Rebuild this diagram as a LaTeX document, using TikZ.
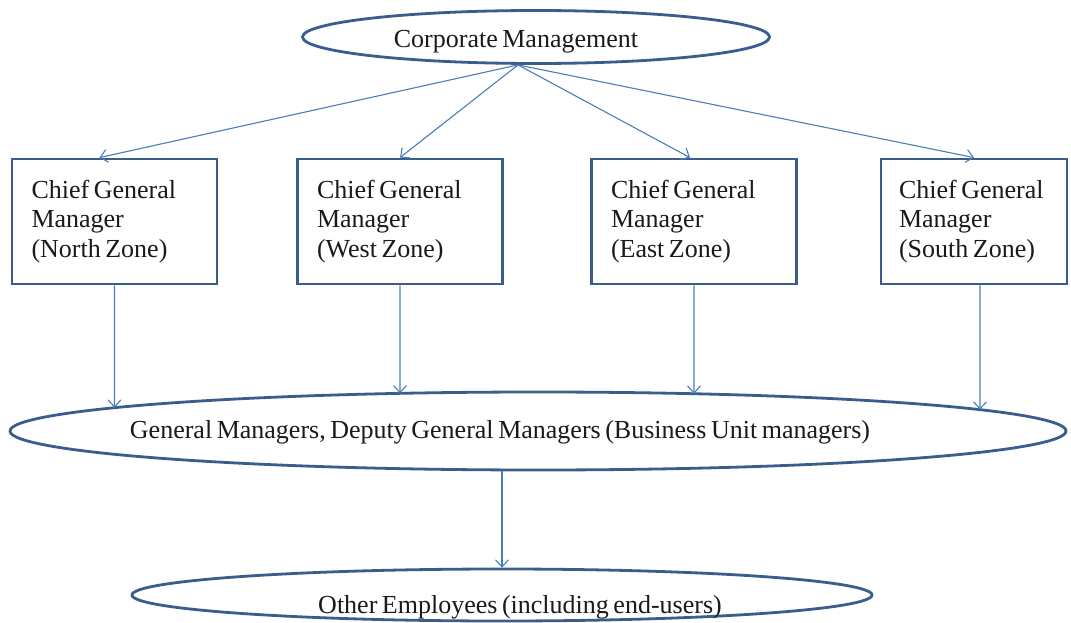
\documentclass[tikz,border=0pt]{standalone}
\usepackage{fontspec}
\setmainfont{Liberation Serif}[WordSpace=0.7]
\usetikzlibrary{shapes.geometric,arrows.meta,intersections}
\hyphenpenalty=10000\relax

\definecolor{frame}{HTML}{3A5E8C}
\definecolor{link}{HTML}{4A7EBB}
\definecolor{ink}{HTML}{1A1A1A}

\begin{document}
\begin{tikzpicture}[x=1pt,y=-1pt,
  every node/.style={text=ink, font=\fontsize{26}{29.5}\selectfont},
  oval/.style={ellipse, draw=frame, line width=2.8pt, inner sep=0pt},
  zonebox/.style={rectangle, draw=frame, line width=2.8pt, align=flush left,
    text width=#1, inner xsep=19.5pt, inner ysep=0pt, minimum height=125pt},
  caption/.style={anchor=base, inner sep=0pt},
  flow/.style={draw=link, line width=1.1pt, -{Straight Barb[length=7pt,width=13pt]}}
]
\useasboundingbox (0,0) rectangle (1071,623);
\fill[white] (0,0) rectangle (1071,623);

% top level
\node[oval, minimum width=467pt, minimum height=53pt] (cm) at (536,37) {};
\node[caption] (cmt) at (516,48) {Corporate Management};

% zone heads
\node[zonebox=166pt] (b1) at (114.5,221.5) {Chief General\\Manager\\(North Zone)};
\node[zonebox=166pt] (b2) at (400,221.5) {Chief General\\Manager\\(West Zone)};
\node[zonebox=166pt] (b3) at (694,221.5) {Chief General\\Manager\\(East Zone)};
\node[zonebox=150pt, inner xsep=18pt] (b4) at (974,221.5) {Chief General\\Manager\\(South Zone)};

% business unit level
\node[oval, minimum width=1056pt, minimum height=78pt, name path=gmrim] (gm) at (538,431) {};
\node[caption] (gmt) at (500,438) {General Managers, Deputy General Managers (Business Unit managers)};

% employees
\node[oval, minimum width=740pt, minimum height=52pt] (oe) at (502,595) {};
\node[caption] (oet) at (520,613) {Other Employees (including end-users)};

% fan-out from corporate management
\coordinate (hub) at ([xshift=-18pt]cm.south);
\draw[flow] (hub) -- ([xshift=-15pt]b1.north);
\draw[flow] (hub) -- (b2.north);
\draw[flow] (hub) -- ([xshift=-4pt]b3.north);
\draw[flow] (hub) -- (b4.north);

% zone heads down to the business unit ellipse
\path[name path=drop1] (b1.south) -- ++(0,300);
\path[name path=drop2] (b2.south) -- ++(0,300);
\path[name path=drop3] (b3.south) -- ++(0,300);
\path[name path=drop4] ([xshift=6pt]b4.south) -- ++(0,300);
\path[name intersections={of=drop1 and gmrim, by=t1, sort by=drop1}];
\path[name intersections={of=drop2 and gmrim, by=t2, sort by=drop2}];
\path[name intersections={of=drop3 and gmrim, by=t3, sort by=drop3}];
\path[name intersections={of=drop4 and gmrim, by=t4, sort by=drop4}];
\draw[flow] (b1.south) -- (t1);
\draw[flow] (b2.south) -- (t2);
\draw[flow] (b3.south) -- (t3);
\draw[flow] ([xshift=6pt]b4.south) -- (t4);

% business units down to employees
\draw[flow] (gm.south -| oe.north) -- (oe.north);
\end{tikzpicture}
\end{document}
